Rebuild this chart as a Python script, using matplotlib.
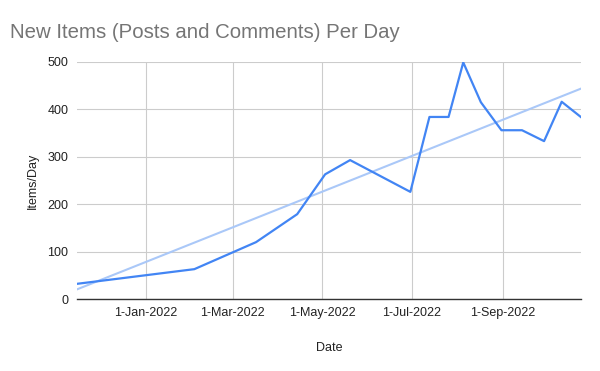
import numpy as np
import pandas as pd
import matplotlib
matplotlib.use("Agg")
import matplotlib.pyplot as plt
import matplotlib.dates as mdates

plt.rcParams['font.family'] = ['Liberation Sans', 'DejaVu Sans']

# ---- data ----
dates = ['2021-11-15', '2022-02-03', '2022-03-17', '2022-04-14', '2022-05-03',
         '2022-05-20', '2022-06-30', '2022-07-13', '2022-07-26', '2022-08-05',
         '2022-08-17', '2022-08-31', '2022-09-14', '2022-09-29', '2022-10-11',
         '2022-10-24']
items_per_day = [32, 63, 120, 179, 263, 293, 226, 384, 384, 499, 415, 356, 356, 333, 416, 384]

tick_dates = ['2022-01-01', '2022-03-01', '2022-05-01', '2022-07-01', '2022-09-01']
tick_labels = ['1-Jan-2022', '1-Mar-2022', '1-May-2022', '1-Jul-2022', '1-Sep-2022']
y_ticks = [0, 100, 200, 300, 400, 500]

x = pd.to_datetime(dates)
xn = mdates.date2num(x)

# linear trendline (least squares, like the sheets trendline)
slope, icpt = np.polyfit(xn, items_per_day, 1)
trend = slope * xn + icpt

fig = plt.figure(figsize=(6, 3.71), dpi=100)
ax = fig.add_axes([0.128, 0.194, 0.840, 0.639])

ax.plot(x, trend, color='#aac8f8', lw=1.5, zorder=2)
ax.plot(x, items_per_day, color='#4285f4', lw=1.6, zorder=3)

ax.set_xlim(xn[0], xn[-1])
ax.set_ylim(0, 500)
ax.set_xticks(mdates.date2num(pd.to_datetime(tick_dates)))
ax.set_xticklabels(tick_labels)
ax.set_yticks(y_ticks)

ax.grid(True, color='#cccccc', lw=0.8)
ax.set_axisbelow(True)
for s in ['top', 'right', 'left']:
    ax.spines[s].set_visible(False)
ax.spines['bottom'].set_color('#333333')
ax.spines['bottom'].set_linewidth(1.0)
ax.spines['bottom'].set_zorder(4)
ax.tick_params(length=0, labelsize=9, labelcolor='#222222', pad=6)

ax.set_xlabel('Date', fontsize=9, color='#222222', labelpad=16)
ax.set_ylabel('Items/Day', fontsize=9, color='#222222', labelpad=6)

fig.text(0.017, 0.912, 'New Items (Posts and Comments) Per Day', fontsize=14.7,
         color='#757575', ha='left', va='center')

fig.savefig('out.png', dpi=100)
